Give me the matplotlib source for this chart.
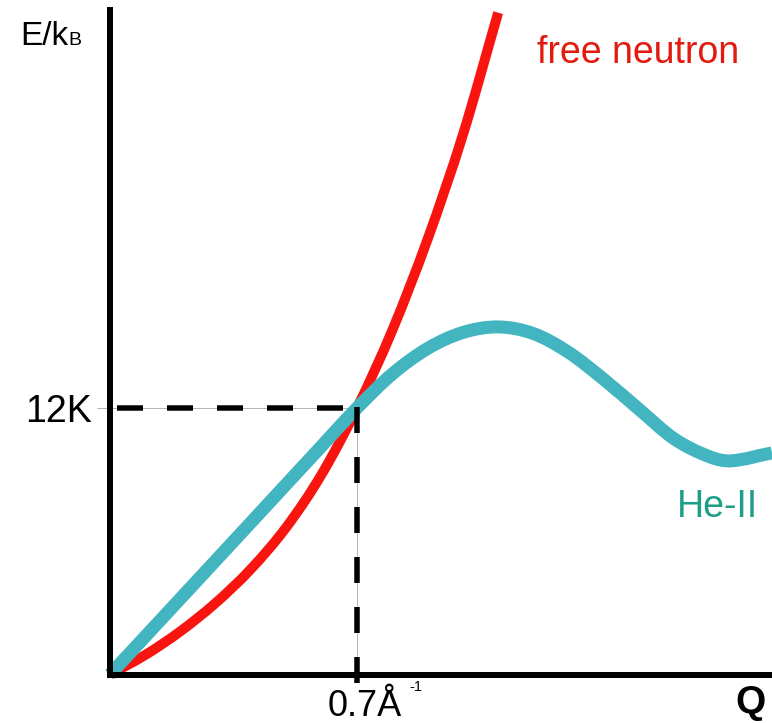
import matplotlib
matplotlib.use("Agg")
import matplotlib.pyplot as plt
from matplotlib.path import Path
from matplotlib.patches import PathPatch
import numpy as np

plt.rcParams['font.family'] = ['Liberation Sans', 'DejaVu Sans']
plt.rcParams['lines.scale_dashes'] = False

# ---- data (Q in 1/Å, E/kB in K) ----
neutron_q = [0.0, 0.1, 0.2, 0.3, 0.4, 0.5, 0.6, 0.7, 0.8, 0.9, 1.0, 1.1]
neutron_e = [0.0, 0.88, 1.95, 3.23, 4.76, 6.64, 9.02, 12.0, 15.5, 19.6, 24.3, 29.8]

heII_q = [0.0, 0.3, 0.6, 0.7, 0.8, 0.9, 1.0, 1.1, 1.2, 1.3, 1.4, 1.5, 1.6, 1.7, 1.76, 1.876]
heII_e = [0.0, 5.14, 10.29, 12.0, 13.53, 14.68, 15.4, 15.65, 15.35, 14.5, 13.28, 11.93, 10.6, 9.8, 9.62, 9.98]

q_mark = 0.7
e_mark = 12.0
q_max = 1.876
e_max = 29.92

W, H = 772, 723
DPI = 100
PX = 72.0 / DPI  # points per pixel

fig = plt.figure(figsize=(W / DPI, H / DPI), dpi=DPI)
ax = fig.add_axes([110 / W, (H - 674.5) / H, (W - 110) / W, (674.5 - 10) / H])
ax.set_xlim(0, q_max)
ax.set_ylim(0, e_max)


def smooth_path(xs, ys):
    pts = np.column_stack([xs, ys])
    n = len(pts)
    verts = [pts[0]]
    codes = [Path.MOVETO]
    for i in range(n - 1):
        p0 = pts[i - 1] if i > 0 else pts[i]
        p1 = pts[i]
        p2 = pts[i + 1]
        p3 = pts[i + 2] if i + 2 < n else pts[i + 1]
        h = p2[0] - p1[0]
        # tangents scaled for non-uniform spacing
        t1 = (p2 - p0) / (p2[0] - p0[0]) * h if i > 0 else (p2 - p1)
        t2 = (p3 - p1) / (p3[0] - p1[0]) * h if i + 2 < n else (p2 - p1)
        c1 = p1 + t1 / 3.0
        c2 = p2 - t2 / 3.0
        verts += [c1, c2, p2]
        codes += [Path.CURVE4] * 3
    return Path(verts, codes)


red = PathPatch(smooth_path(neutron_q, neutron_e), fill=False, edgecolor='#f8150f',
                lw=10 * PX, capstyle='butt', joinstyle='round', zorder=3, clip_on=False)
cyan = PathPatch(smooth_path(heII_q, heII_e), fill=False, edgecolor='#43b5c1',
                 lw=13 * PX, capstyle='butt', joinstyle='round', zorder=4, clip_on=False)
ax.add_patch(red)
ax.add_patch(cyan)

# thin grey guide lines
ax.plot([0, q_mark], [e_mark, e_mark], color='#b5b5b5', lw=1 * PX, zorder=2)
ax.plot([q_mark, q_mark], [0, e_mark], color='#b5b5b5', lw=1 * PX, zorder=2)

# black dashed guides
on, off = 26 * PX, 24 * PX
ax.plot([0, q_mark], [e_mark, e_mark], color='black', lw=5.5 * PX,
        linestyle=(43 * PX, (on, off)), dash_capstyle='butt', zorder=5)
ax.plot([q_mark, q_mark], [e_mark + 0.05, -0.38], color='black', lw=5.5 * PX,
        linestyle=(0, (on, off)), dash_capstyle='butt', zorder=5, clip_on=False)

# spines
for s in ['top', 'right']:
    ax.spines[s].set_visible(False)
for s in ['left', 'bottom']:
    ax.spines[s].set_linewidth(6 * PX)
    ax.spines[s].set_color('black')
    ax.spines[s].set_zorder(6)
    ax.spines[s].set_capstyle('projecting')

ax.set_yticks([e_mark])
ax.set_yticklabels(['12K'])
ax.tick_params(axis='y', length=13 * PX, width=1 * PX, color='#b5b5b5',
               pad=5 * PX, labelsize=27, labelcolor='black')
ax.set_xticks([])

# x mark label
ax.annotate('0.7Å', xy=(q_mark, 0), xytext=(-29, -41), textcoords='offset pixels',
            ha='left', va='baseline', fontsize=26, annotation_clip=False)
ax.annotate('-1', xy=(q_mark, 0), xytext=(52, -5.5), textcoords='offset pixels',
            ha='left', va='top', fontsize=10.5, annotation_clip=False)


def ftext(x, y, s, **kw):
    return fig.text(x / W, 1 - y / H, s, va='baseline', ha='left', **kw)


ek = ftext(20, 45, 'E/k', fontsize=24)
fig.canvas.draw()
bb = ek.get_window_extent()
fig.text(bb.x1 / W + 0.5 / W, 1 - 45 / H, 'B', va='baseline', ha='left', fontsize=14)

ftext(537, 63, 'free neutron', fontsize=27, color='#e31a0f')
ftext(677, 517, 'He-II', fontsize=27, color='#1c9e88')
ftext(735, 713, 'Q', fontsize=28, fontweight='bold')

fig.savefig('out.png', dpi=DPI)
